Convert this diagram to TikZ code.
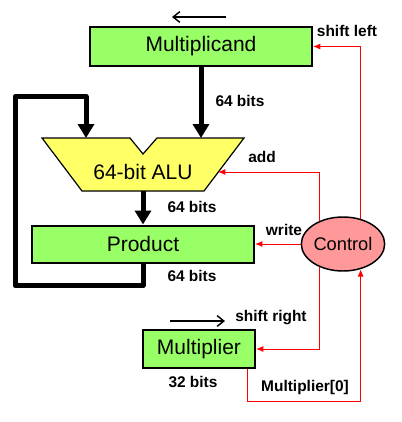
\documentclass[tikz,border=0pt]{standalone}
\usepackage{fontspec}
\setmainfont{Liberation Sans}
\usetikzlibrary{arrows.meta,positioning,shapes.geometric,calc}
\definecolor{Lime}{HTML}{99FF66}
\definecolor{Lemon}{HTML}{FFFF66}
\definecolor{Rose}{HTML}{FF9999}
\definecolor{Wire}{HTML}{FF0000}
\tikzset{
  reg/.style={
    draw=black,line width=1.5pt,fill=Lime,inner sep=0pt,
    minimum height=28.5pt,font=\fontsize{15.75}{18}\selectfont
  },
  unit/.style={
    ellipse,draw=black,line width=1.1pt,fill=Rose,inner sep=0pt,
    minimum width=60pt,minimum height=40.5pt,font=\fontsize{13.7}{16}\selectfont
  },
  tag/.style={font=\fontsize{11.6}{13}\selectfont\bfseries,inner sep=0pt},
  bus/.style={-{Triangle[length=10.5pt,width=12pt]},line width=3.75pt,line join=round},
  ctl/.style={-{Latex[length=5.5pt,width=4.5pt]},line width=0.75pt,draw=Wire},
  dir/.style={-{Straight Barb[length=5pt,width=8pt]},line width=1.1pt}
}
\begin{document}
\begin{tikzpicture}[x=0.75pt,y=-0.75pt]
  \useasboundingbox (0,0) rectangle (401,422);
  % registers and control
  \node[reg,minimum width=166.5pt,minimum height=29.25pt] (mcand) at (201,46.5) {Multiplicand};
  \node[reg,minimum width=166.5pt,minimum height=27.75pt] (prod) at (143,244) {Product};
  \node[reg,minimum width=84pt] (mplier) at (199,349) {Multiplier};
  \node[unit] (ctrl) at (343,244) {Control};

  % ALU outline
  \draw[fill=Lemon,line width=0.9pt,line join=miter]
    (42,138) -- (130,138) -- (143,154) -- (157,138) -- (244,138)
    -- (204,191) -- (82,191) -- cycle;
  \node[font=\fontsize{15.75}{18}\selectfont] (alu) at (143,172) {64-bit ALU};
  \coordinate (aluA) at (86,138);
  \coordinate (aluB) at (201,138);
  \coordinate (aluO) at (143,191);
  \coordinate (aluAdd) at (218,172);

  % datapath
  \draw[bus] (mcand.south) -- (aluB);
  \draw[bus] (aluO) -- (prod.north);
  \draw[bus] (prod.south) -- ++(0,22) -| ++(-128,-189) -| (aluA);

  % control lines
  \draw[ctl] (ctrl.55) |- (mcand.east);
  \draw[ctl] (ctrl.136) |- (aluAdd);
  \draw[ctl] (ctrl.west) -- (prod.east);
  \draw[ctl] (ctrl.-136) |- (mplier.east);
  \draw[ctl] ($(mplier.south east)+(-9,0)$) -- ++(0,32) -| (ctrl.-55);

  % shift directions
  \coordinate (sl1) at (226,17);
  \coordinate (sl2) at (172,17);
  \coordinate (sr1) at (170,321);
  \coordinate (sr2) at (225,321);
  \draw[dir] (sl1) -- (sl2);
  \draw[dir] (sr1) -- (sr2);

  % labels
  \node[tag] (tShl) at (347,31) {shift left};
  \node[tag] (tMc) at (240,101) {64 bits};
  \node[tag] (tAdd) at (262,157) {add};
  \node[tag] (tAlu) at (192,207) {64 bits};
  \node[tag] (tWr) at (284,230) {write};
  \node[tag] (tPr) at (192,276) {64 bits};
  \node[tag] (tShr) at (271,318) {shift right};
  \node[tag] (tMp) at (193,382) {32 bits};
  \node[tag] (tM0) at (305,387) {Multiplier[0]};
\end{tikzpicture}
\end{document}
